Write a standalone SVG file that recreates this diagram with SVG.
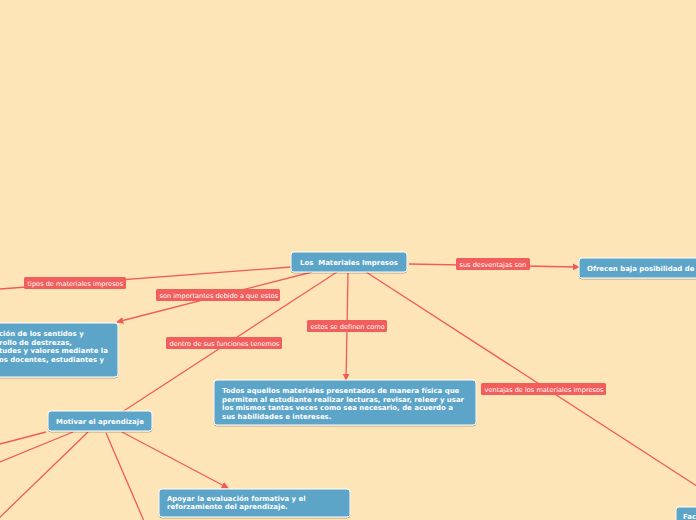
<svg xmlns="http://www.w3.org/2000/svg" width="696" height="520" viewBox="0 0 696 520">
<defs>
<marker id="ah" viewBox="0 0 10 10" refX="9" refY="5" markerWidth="7" markerHeight="7" markerUnits="userSpaceOnUse" orient="auto"><path d="M0,0 L10,5 L0,10 z" fill="#F25A5A"/></marker>
<filter id="sh" x="-5%" y="-20%" width="110%" height="150%"><feDropShadow dx="0" dy="1" stdDeviation="0.6" flood-color="#000" flood-opacity="0.3"/></filter>
</defs>
<style>
.bg{fill:#FEE5B7}
.ln{stroke:#F25A5A;stroke-width:1.3;fill:none}
.lb rect{fill:#F25E5C;rx:1.5}
.lb text{font-family:"DejaVu Sans",Verdana,sans-serif;font-size:6.6px;fill:#fff}
.nd rect{fill:#5DA5C8;stroke:#fff;stroke-width:1;rx:3;filter:url(#sh)}
.nd text{font-family:"DejaVu Sans",Verdana,sans-serif;font-size:6.95px;font-weight:bold;fill:#fff;white-space:pre}
</style>
<rect class="bg" x="0" y="0" width="696" height="520"/>
<g id="connectors">
<line class="ln" x1="291" y1="267" x2="0" y2="289"/>
<line class="ln" x1="312" y1="272" x2="117" y2="322" marker-end="url(#ah)"/>
<line class="ln" x1="337" y1="272" x2="119" y2="414"/>
<line class="ln" x1="348" y1="273" x2="346" y2="380" marker-end="url(#ah)"/>
<line class="ln" x1="366" y1="272" x2="700" y2="488"/>
<line class="ln" x1="409" y1="264" x2="579" y2="267" marker-end="url(#ah)"/>
<line class="ln" x1="122" y1="432" x2="228" y2="488" marker-end="url(#ah)"/>
<line class="ln" x1="46" y1="432" x2="0" y2="444"/>
<line class="ln" x1="73" y1="432" x2="0" y2="462"/>
<line class="ln" x1="88" y1="432" x2="-4" y2="521"/>
<line class="ln" x1="106" y1="433" x2="144" y2="521"/>
<g class="lb"><rect x="24" y="277" width="102" height="12"/><text x="27.5" y="285.5">tipos de materiales impresos</text></g>
<g class="lb"><rect x="156" y="289" width="124" height="12"/><text x="159.5" y="297.5">son importantes debido a que estos</text></g>
<g class="lb"><rect x="307" y="320" width="80" height="12"/><text x="310.5" y="328.5">estos se definen como</text></g>
<g class="lb"><rect x="166" y="337" width="116" height="12"/><text x="169.5" y="345.5">dentro de sus funciones tenemos</text></g>
<g class="lb"><rect x="456" y="258" width="74" height="12"/><text x="459.5" y="266.5">sus desventajas son</text></g>
<g class="lb"><rect x="481" y="383" width="125" height="12"/><text x="484.5" y="391.5">ventajas de los materiales impresos</text></g>
</g>
<g id="n-central" class="nd"><rect x="291" y="252" width="116" height="20"/><text x="349" y="265" text-anchor="middle" xml:space="preserve">Los  Materiales Impresos</text></g>
<g id="n-sentidos" class="nd"><rect x="-10" y="323" width="128" height="54"/>
<text x="-1" y="336">ción de los sentidos y</text>
<text x="-1" y="344.5">rollo de destrezas,</text>
<text x="-1" y="353">tudes y valores mediante la</text>
<text x="-1" y="361.5">os docentes, estudiantes y</text></g>
<g id="n-definicion" class="nd"><rect x="214" y="380" width="262" height="45"/>
<text x="222" y="393">Todos aquellos materiales presentados de manera física que</text>
<text x="222" y="401.5">permiten al estudiante realizar lecturas, revisar, releer y usar</text>
<text x="222" y="410">los mismos tantas veces como sea necesario, de acuerdo a</text>
<text x="222" y="418.5">sus habilidades e intereses.</text></g>
<g id="n-ofrecen" class="nd"><rect x="579" y="258" width="125" height="20"/><text x="587" y="271">Ofrecen baja posibilidad de</text></g>
<g id="n-motivar" class="nd"><rect x="48" y="411" width="104" height="20"/><text x="100" y="424" text-anchor="middle">Motivar el aprendizaje</text></g>
<g id="n-apoyar" class="nd"><rect x="159" y="489" width="191" height="28"/>
<text x="167" y="500.5">Apoyar la evaluación formativa y el</text>
<text x="167" y="509">reforzamiento del aprendizaje.</text></g>
<g id="n-fac" class="nd"><rect x="676" y="507" width="30" height="20"/><text x="683" y="519">Fac</text></g>
</svg>
